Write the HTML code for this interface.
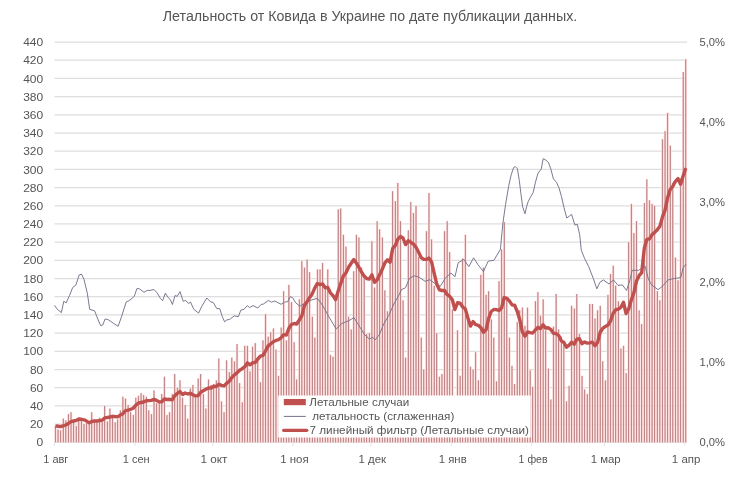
<!DOCTYPE html><html><head><meta charset="utf-8"><title>chart</title><style>html,body{margin:0;padding:0;background:#fff}svg{display:block;will-change:transform;opacity:.999}text{font-family:"Liberation Sans",sans-serif;fill:#555}</style></head><body>
<svg width="740" height="485" viewBox="0 0 740 485">
<rect width="740" height="485" fill="#fff"/>
<line x1="54.5" x2="687" y1="442.3" y2="442.3" stroke="#DEDEDE" stroke-width="1.25"/>
<line x1="54.5" x2="687" y1="424.1" y2="424.1" stroke="#DEDEDE" stroke-width="1.25"/>
<line x1="54.5" x2="687" y1="405.9" y2="405.9" stroke="#DEDEDE" stroke-width="1.25"/>
<line x1="54.5" x2="687" y1="387.7" y2="387.7" stroke="#DEDEDE" stroke-width="1.25"/>
<line x1="54.5" x2="687" y1="369.5" y2="369.5" stroke="#DEDEDE" stroke-width="1.25"/>
<line x1="54.5" x2="687" y1="351.3" y2="351.3" stroke="#DEDEDE" stroke-width="1.25"/>
<line x1="54.5" x2="687" y1="333.1" y2="333.1" stroke="#DEDEDE" stroke-width="1.25"/>
<line x1="54.5" x2="687" y1="314.9" y2="314.9" stroke="#DEDEDE" stroke-width="1.25"/>
<line x1="54.5" x2="687" y1="296.7" y2="296.7" stroke="#DEDEDE" stroke-width="1.25"/>
<line x1="54.5" x2="687" y1="278.5" y2="278.5" stroke="#DEDEDE" stroke-width="1.25"/>
<line x1="54.5" x2="687" y1="260.3" y2="260.3" stroke="#DEDEDE" stroke-width="1.25"/>
<line x1="54.5" x2="687" y1="242.1" y2="242.1" stroke="#DEDEDE" stroke-width="1.25"/>
<line x1="54.5" x2="687" y1="223.9" y2="223.9" stroke="#DEDEDE" stroke-width="1.25"/>
<line x1="54.5" x2="687" y1="205.8" y2="205.8" stroke="#DEDEDE" stroke-width="1.25"/>
<line x1="54.5" x2="687" y1="187.6" y2="187.6" stroke="#DEDEDE" stroke-width="1.25"/>
<line x1="54.5" x2="687" y1="169.4" y2="169.4" stroke="#DEDEDE" stroke-width="1.25"/>
<line x1="54.5" x2="687" y1="151.2" y2="151.2" stroke="#DEDEDE" stroke-width="1.25"/>
<line x1="54.5" x2="687" y1="133.0" y2="133.0" stroke="#DEDEDE" stroke-width="1.25"/>
<line x1="54.5" x2="687" y1="114.8" y2="114.8" stroke="#DEDEDE" stroke-width="1.25"/>
<line x1="54.5" x2="687" y1="96.6" y2="96.6" stroke="#DEDEDE" stroke-width="1.25"/>
<line x1="54.5" x2="687" y1="78.4" y2="78.4" stroke="#DEDEDE" stroke-width="1.25"/>
<line x1="54.5" x2="687" y1="60.2" y2="60.2" stroke="#DEDEDE" stroke-width="1.25"/>
<line x1="54.5" x2="687" y1="42.0" y2="42.0" stroke="#DEDEDE" stroke-width="1.25"/>
<line x1="54.5" x2="54.5" y1="442" y2="446" stroke="#E4E4E4" stroke-width="1"/>
<line x1="134.9" x2="134.9" y1="442" y2="446" stroke="#E4E4E4" stroke-width="1"/>
<line x1="212.7" x2="212.7" y1="442" y2="446" stroke="#E4E4E4" stroke-width="1"/>
<line x1="293.1" x2="293.1" y1="442" y2="446" stroke="#E4E4E4" stroke-width="1"/>
<line x1="371.0" x2="371.0" y1="442" y2="446" stroke="#E4E4E4" stroke-width="1"/>
<line x1="451.4" x2="451.4" y1="442" y2="446" stroke="#E4E4E4" stroke-width="1"/>
<line x1="531.8" x2="531.8" y1="442" y2="446" stroke="#E4E4E4" stroke-width="1"/>
<line x1="604.4" x2="604.4" y1="442" y2="446" stroke="#E4E4E4" stroke-width="1"/>
<line x1="684.8" x2="684.8" y1="442" y2="446" stroke="#E4E4E4" stroke-width="1"/>
<g fill="#FFE4E2" opacity="0.9"><rect x="54.20" y="425.52" width="2.5" height="16.78"/><rect x="56.79" y="429.16" width="2.5" height="13.14"/><rect x="59.39" y="430.07" width="2.5" height="12.23"/><rect x="61.98" y="418.25" width="2.5" height="24.05"/><rect x="64.58" y="420.06" width="2.5" height="22.24"/><rect x="67.17" y="413.70" width="2.5" height="28.60"/><rect x="69.76" y="411.88" width="2.5" height="30.42"/><rect x="72.36" y="420.97" width="2.5" height="21.33"/><rect x="74.95" y="425.52" width="2.5" height="16.78"/><rect x="77.55" y="420.06" width="2.5" height="22.24"/><rect x="80.14" y="420.06" width="2.5" height="22.24"/><rect x="82.73" y="423.70" width="2.5" height="18.60"/><rect x="85.33" y="422.79" width="2.5" height="19.51"/><rect x="87.92" y="423.70" width="2.5" height="18.60"/><rect x="90.52" y="411.88" width="2.5" height="30.42"/><rect x="93.11" y="421.88" width="2.5" height="20.42"/><rect x="95.70" y="420.06" width="2.5" height="22.24"/><rect x="98.30" y="417.34" width="2.5" height="24.96"/><rect x="100.89" y="421.88" width="2.5" height="20.42"/><rect x="103.49" y="405.51" width="2.5" height="36.79"/><rect x="106.08" y="420.97" width="2.5" height="21.33"/><rect x="108.67" y="408.24" width="2.5" height="34.06"/><rect x="111.27" y="417.34" width="2.5" height="24.96"/><rect x="113.86" y="421.88" width="2.5" height="20.42"/><rect x="116.46" y="419.16" width="2.5" height="23.15"/><rect x="119.05" y="410.06" width="2.5" height="32.24"/><rect x="121.64" y="396.41" width="2.5" height="45.89"/><rect x="124.24" y="398.23" width="2.5" height="44.07"/><rect x="126.83" y="404.60" width="2.5" height="37.70"/><rect x="129.43" y="411.88" width="2.5" height="30.42"/><rect x="132.02" y="414.61" width="2.5" height="27.69"/><rect x="134.61" y="397.32" width="2.5" height="44.98"/><rect x="137.21" y="395.50" width="2.5" height="46.80"/><rect x="139.80" y="392.77" width="2.5" height="49.53"/><rect x="142.40" y="394.59" width="2.5" height="47.71"/><rect x="144.99" y="396.41" width="2.5" height="45.89"/><rect x="147.58" y="410.06" width="2.5" height="32.24"/><rect x="150.18" y="413.70" width="2.5" height="28.60"/><rect x="152.77" y="390.04" width="2.5" height="52.26"/><rect x="155.37" y="402.78" width="2.5" height="39.52"/><rect x="157.96" y="402.78" width="2.5" height="39.52"/><rect x="160.55" y="393.68" width="2.5" height="48.62"/><rect x="163.15" y="376.39" width="2.5" height="65.91"/><rect x="165.74" y="414.61" width="2.5" height="27.69"/><rect x="168.34" y="411.88" width="2.5" height="30.42"/><rect x="170.93" y="393.68" width="2.5" height="48.62"/><rect x="173.52" y="373.67" width="2.5" height="68.64"/><rect x="176.12" y="387.31" width="2.5" height="54.99"/><rect x="178.71" y="380.03" width="2.5" height="62.27"/><rect x="181.31" y="397.32" width="2.5" height="44.98"/><rect x="183.90" y="404.60" width="2.5" height="37.70"/><rect x="186.49" y="418.25" width="2.5" height="24.05"/><rect x="189.09" y="388.22" width="2.5" height="54.08"/><rect x="191.68" y="384.58" width="2.5" height="57.72"/><rect x="194.28" y="395.50" width="2.5" height="46.80"/><rect x="196.87" y="378.21" width="2.5" height="64.09"/><rect x="199.46" y="373.67" width="2.5" height="68.64"/><rect x="202.06" y="393.68" width="2.5" height="48.62"/><rect x="204.65" y="408.24" width="2.5" height="34.06"/><rect x="207.25" y="379.12" width="2.5" height="63.18"/><rect x="209.84" y="384.58" width="2.5" height="57.72"/><rect x="212.43" y="383.67" width="2.5" height="58.63"/><rect x="215.03" y="380.03" width="2.5" height="62.27"/><rect x="217.62" y="358.20" width="2.5" height="84.10"/><rect x="220.22" y="400.96" width="2.5" height="41.34"/><rect x="222.81" y="411.88" width="2.5" height="30.42"/><rect x="225.40" y="360.02" width="2.5" height="82.28"/><rect x="228.00" y="371.85" width="2.5" height="70.45"/><rect x="230.59" y="357.29" width="2.5" height="85.01"/><rect x="233.19" y="360.93" width="2.5" height="81.37"/><rect x="235.78" y="343.64" width="2.5" height="98.66"/><rect x="238.37" y="382.76" width="2.5" height="59.54"/><rect x="240.97" y="401.87" width="2.5" height="40.43"/><rect x="243.56" y="345.46" width="2.5" height="96.84"/><rect x="246.16" y="345.46" width="2.5" height="96.84"/><rect x="248.75" y="370.94" width="2.5" height="71.36"/><rect x="251.34" y="346.37" width="2.5" height="95.93"/><rect x="253.94" y="342.73" width="2.5" height="99.57"/><rect x="256.53" y="357.29" width="2.5" height="85.01"/><rect x="259.13" y="381.85" width="2.5" height="60.45"/><rect x="261.72" y="340.00" width="2.5" height="102.30"/><rect x="264.31" y="313.62" width="2.5" height="128.68"/><rect x="266.91" y="336.36" width="2.5" height="105.94"/><rect x="269.50" y="331.81" width="2.5" height="110.49"/><rect x="272.10" y="328.18" width="2.5" height="114.13"/><rect x="274.69" y="349.10" width="2.5" height="93.20"/><rect x="277.28" y="375.48" width="2.5" height="66.82"/><rect x="279.88" y="327.27" width="2.5" height="115.03"/><rect x="282.47" y="290.87" width="2.5" height="151.43"/><rect x="285.07" y="340.00" width="2.5" height="102.30"/><rect x="287.66" y="284.50" width="2.5" height="157.80"/><rect x="290.25" y="301.79" width="2.5" height="140.51"/><rect x="292.85" y="341.82" width="2.5" height="100.48"/><rect x="295.44" y="379.12" width="2.5" height="63.18"/><rect x="298.04" y="299.06" width="2.5" height="143.24"/><rect x="300.63" y="260.85" width="2.5" height="181.45"/><rect x="303.22" y="267.22" width="2.5" height="175.08"/><rect x="305.82" y="259.03" width="2.5" height="183.27"/><rect x="308.41" y="271.77" width="2.5" height="170.53"/><rect x="311.01" y="316.35" width="2.5" height="125.95"/><rect x="313.60" y="337.27" width="2.5" height="105.03"/><rect x="316.19" y="269.04" width="2.5" height="173.26"/><rect x="318.79" y="269.04" width="2.5" height="173.26"/><rect x="321.38" y="262.67" width="2.5" height="179.63"/><rect x="323.98" y="285.41" width="2.5" height="156.89"/><rect x="326.57" y="269.04" width="2.5" height="173.26"/><rect x="329.16" y="354.56" width="2.5" height="87.74"/><rect x="331.76" y="356.38" width="2.5" height="85.92"/><rect x="334.35" y="297.24" width="2.5" height="145.06"/><rect x="336.95" y="208.99" width="2.5" height="233.31"/><rect x="339.54" y="208.08" width="2.5" height="234.22"/><rect x="342.13" y="234.47" width="2.5" height="207.83"/><rect x="344.73" y="246.29" width="2.5" height="196.01"/><rect x="347.32" y="316.35" width="2.5" height="125.95"/><rect x="349.92" y="329.08" width="2.5" height="113.22"/><rect x="352.51" y="270.86" width="2.5" height="171.44"/><rect x="355.10" y="234.47" width="2.5" height="207.83"/><rect x="357.70" y="237.19" width="2.5" height="205.11"/><rect x="360.29" y="267.22" width="2.5" height="175.08"/><rect x="362.89" y="274.50" width="2.5" height="167.80"/><rect x="365.48" y="333.63" width="2.5" height="108.67"/><rect x="368.07" y="332.72" width="2.5" height="109.58"/><rect x="370.67" y="240.83" width="2.5" height="201.47"/><rect x="373.26" y="287.23" width="2.5" height="155.07"/><rect x="375.86" y="220.82" width="2.5" height="221.48"/><rect x="378.45" y="229.01" width="2.5" height="213.29"/><rect x="381.04" y="237.19" width="2.5" height="205.11"/><rect x="383.64" y="289.96" width="2.5" height="152.34"/><rect x="386.23" y="310.89" width="2.5" height="131.41"/><rect x="388.83" y="257.21" width="2.5" height="185.09"/><rect x="391.42" y="190.80" width="2.5" height="251.50"/><rect x="394.01" y="200.80" width="2.5" height="241.50"/><rect x="396.61" y="182.61" width="2.5" height="259.69"/><rect x="399.20" y="220.82" width="2.5" height="221.48"/><rect x="401.80" y="299.97" width="2.5" height="142.33"/><rect x="404.39" y="357.29" width="2.5" height="85.01"/><rect x="406.98" y="229.92" width="2.5" height="212.38"/><rect x="409.58" y="201.71" width="2.5" height="240.59"/><rect x="412.17" y="212.63" width="2.5" height="229.67"/><rect x="414.77" y="205.35" width="2.5" height="236.95"/><rect x="417.36" y="256.30" width="2.5" height="186.00"/><rect x="419.95" y="337.27" width="2.5" height="105.03"/><rect x="422.55" y="369.12" width="2.5" height="73.18"/><rect x="425.14" y="230.83" width="2.5" height="211.47"/><rect x="427.74" y="192.61" width="2.5" height="249.69"/><rect x="430.33" y="239.01" width="2.5" height="203.29"/><rect x="432.92" y="285.41" width="2.5" height="156.89"/><rect x="435.52" y="332.72" width="2.5" height="109.58"/><rect x="438.11" y="376.39" width="2.5" height="65.91"/><rect x="440.71" y="373.67" width="2.5" height="68.64"/><rect x="443.30" y="230.83" width="2.5" height="211.47"/><rect x="445.89" y="220.82" width="2.5" height="221.48"/><rect x="448.49" y="251.75" width="2.5" height="190.55"/><rect x="451.08" y="309.07" width="2.5" height="133.23"/><rect x="453.68" y="400.96" width="2.5" height="41.34"/><rect x="456.27" y="329.99" width="2.5" height="112.31"/><rect x="458.86" y="375.48" width="2.5" height="66.82"/><rect x="461.46" y="258.12" width="2.5" height="184.18"/><rect x="464.05" y="234.47" width="2.5" height="207.83"/><rect x="466.65" y="314.53" width="2.5" height="127.77"/><rect x="469.24" y="366.39" width="2.5" height="75.91"/><rect x="471.83" y="369.12" width="2.5" height="73.18"/><rect x="474.43" y="351.83" width="2.5" height="90.47"/><rect x="477.02" y="380.03" width="2.5" height="62.27"/><rect x="479.62" y="274.50" width="2.5" height="167.80"/><rect x="482.21" y="267.22" width="2.5" height="175.08"/><rect x="484.80" y="294.51" width="2.5" height="147.79"/><rect x="487.40" y="290.87" width="2.5" height="151.43"/><rect x="489.99" y="319.08" width="2.5" height="123.22"/><rect x="492.59" y="337.27" width="2.5" height="105.03"/><rect x="495.18" y="380.94" width="2.5" height="61.36"/><rect x="497.77" y="280.87" width="2.5" height="161.43"/><rect x="500.37" y="249.02" width="2.5" height="193.28"/><rect x="502.96" y="221.73" width="2.5" height="220.57"/><rect x="505.56" y="296.33" width="2.5" height="145.97"/><rect x="508.15" y="337.27" width="2.5" height="105.03"/><rect x="510.74" y="365.48" width="2.5" height="76.82"/><rect x="513.34" y="383.67" width="2.5" height="58.63"/><rect x="515.93" y="321.81" width="2.5" height="120.49"/><rect x="518.53" y="309.98" width="2.5" height="132.32"/><rect x="521.12" y="307.25" width="2.5" height="135.05"/><rect x="523.71" y="325.45" width="2.5" height="116.85"/><rect x="526.31" y="307.25" width="2.5" height="135.05"/><rect x="528.90" y="370.03" width="2.5" height="72.27"/><rect x="531.50" y="386.40" width="2.5" height="55.90"/><rect x="534.09" y="300.88" width="2.5" height="141.42"/><rect x="536.68" y="291.78" width="2.5" height="150.52"/><rect x="539.28" y="315.44" width="2.5" height="126.86"/><rect x="541.87" y="299.06" width="2.5" height="143.24"/><rect x="544.47" y="329.99" width="2.5" height="112.31"/><rect x="547.06" y="368.21" width="2.5" height="74.09"/><rect x="549.65" y="399.14" width="2.5" height="43.16"/><rect x="552.25" y="326.36" width="2.5" height="115.94"/><rect x="554.84" y="293.60" width="2.5" height="148.70"/><rect x="557.44" y="329.08" width="2.5" height="113.22"/><rect x="560.03" y="336.36" width="2.5" height="105.94"/><rect x="562.62" y="341.82" width="2.5" height="100.48"/><rect x="565.22" y="400.96" width="2.5" height="41.34"/><rect x="567.81" y="385.49" width="2.5" height="56.81"/><rect x="570.41" y="305.43" width="2.5" height="136.87"/><rect x="573.00" y="308.16" width="2.5" height="134.14"/><rect x="575.59" y="293.60" width="2.5" height="148.70"/><rect x="578.19" y="333.63" width="2.5" height="108.67"/><rect x="580.78" y="375.48" width="2.5" height="66.82"/><rect x="583.38" y="389.13" width="2.5" height="53.17"/><rect x="585.97" y="393.68" width="2.5" height="48.62"/><rect x="588.56" y="303.61" width="2.5" height="138.69"/><rect x="591.16" y="303.61" width="2.5" height="138.69"/><rect x="593.75" y="318.17" width="2.5" height="124.13"/><rect x="596.35" y="309.98" width="2.5" height="132.32"/><rect x="598.94" y="305.43" width="2.5" height="136.87"/><rect x="601.53" y="360.93" width="2.5" height="81.37"/><rect x="604.13" y="380.03" width="2.5" height="62.27"/><rect x="606.72" y="294.51" width="2.5" height="147.79"/><rect x="609.32" y="273.59" width="2.5" height="168.71"/><rect x="611.91" y="265.40" width="2.5" height="176.90"/><rect x="614.50" y="285.41" width="2.5" height="156.89"/><rect x="617.10" y="300.88" width="2.5" height="141.42"/><rect x="619.69" y="348.19" width="2.5" height="94.11"/><rect x="622.29" y="345.46" width="2.5" height="96.84"/><rect x="624.88" y="372.76" width="2.5" height="69.54"/><rect x="627.47" y="241.74" width="2.5" height="200.56"/><rect x="630.07" y="203.53" width="2.5" height="238.77"/><rect x="632.66" y="232.65" width="2.5" height="209.65"/><rect x="635.26" y="220.82" width="2.5" height="221.48"/><rect x="637.85" y="309.98" width="2.5" height="132.32"/><rect x="640.44" y="323.63" width="2.5" height="118.67"/><rect x="643.04" y="202.62" width="2.5" height="239.68"/><rect x="645.63" y="178.97" width="2.5" height="263.33"/><rect x="648.23" y="199.89" width="2.5" height="242.41"/><rect x="650.82" y="203.53" width="2.5" height="238.77"/><rect x="653.41" y="205.35" width="2.5" height="236.95"/><rect x="656.01" y="290.87" width="2.5" height="151.43"/><rect x="658.60" y="299.97" width="2.5" height="142.33"/><rect x="661.20" y="138.94" width="2.5" height="303.36"/><rect x="663.79" y="130.75" width="2.5" height="311.55"/><rect x="666.38" y="112.55" width="2.5" height="329.75"/><rect x="668.98" y="145.31" width="2.5" height="296.99"/><rect x="671.57" y="182.61" width="2.5" height="259.69"/><rect x="674.17" y="257.21" width="2.5" height="185.09"/><rect x="676.76" y="279.96" width="2.5" height="162.34"/><rect x="679.35" y="178.06" width="2.5" height="264.24"/><rect x="681.95" y="71.61" width="2.5" height="370.69"/><rect x="684.54" y="58.87" width="2.5" height="383.43"/></g>
<g fill="#F5BDBF"><rect x="54.70" y="425.92" width="1.5" height="16.38"/><rect x="57.29" y="429.56" width="1.5" height="12.74"/><rect x="59.89" y="430.47" width="1.5" height="11.83"/><rect x="62.48" y="418.65" width="1.5" height="23.65"/><rect x="65.08" y="420.46" width="1.5" height="21.84"/><rect x="67.67" y="414.10" width="1.5" height="28.20"/><rect x="70.26" y="412.28" width="1.5" height="30.02"/><rect x="72.86" y="421.37" width="1.5" height="20.93"/><rect x="75.45" y="425.92" width="1.5" height="16.38"/><rect x="78.05" y="420.46" width="1.5" height="21.84"/><rect x="80.64" y="420.46" width="1.5" height="21.84"/><rect x="83.23" y="424.10" width="1.5" height="18.20"/><rect x="85.83" y="423.19" width="1.5" height="19.11"/><rect x="88.42" y="424.10" width="1.5" height="18.20"/><rect x="91.02" y="412.28" width="1.5" height="30.02"/><rect x="93.61" y="422.28" width="1.5" height="20.02"/><rect x="96.20" y="420.46" width="1.5" height="21.84"/><rect x="98.80" y="417.74" width="1.5" height="24.56"/><rect x="101.39" y="422.28" width="1.5" height="20.02"/><rect x="103.99" y="405.91" width="1.5" height="36.39"/><rect x="106.58" y="421.37" width="1.5" height="20.93"/><rect x="109.17" y="408.64" width="1.5" height="33.66"/><rect x="111.77" y="417.74" width="1.5" height="24.56"/><rect x="114.36" y="422.28" width="1.5" height="20.02"/><rect x="116.96" y="419.56" width="1.5" height="22.75"/><rect x="119.55" y="410.46" width="1.5" height="31.84"/><rect x="122.14" y="396.81" width="1.5" height="45.49"/><rect x="124.74" y="398.63" width="1.5" height="43.67"/><rect x="127.33" y="405.00" width="1.5" height="37.30"/><rect x="129.93" y="412.28" width="1.5" height="30.02"/><rect x="132.52" y="415.01" width="1.5" height="27.29"/><rect x="135.11" y="397.72" width="1.5" height="44.58"/><rect x="137.71" y="395.90" width="1.5" height="46.40"/><rect x="140.30" y="393.17" width="1.5" height="49.13"/><rect x="142.90" y="394.99" width="1.5" height="47.31"/><rect x="145.49" y="396.81" width="1.5" height="45.49"/><rect x="148.08" y="410.46" width="1.5" height="31.84"/><rect x="150.68" y="414.10" width="1.5" height="28.20"/><rect x="153.27" y="390.44" width="1.5" height="51.86"/><rect x="155.87" y="403.18" width="1.5" height="39.12"/><rect x="158.46" y="403.18" width="1.5" height="39.12"/><rect x="161.05" y="394.08" width="1.5" height="48.22"/><rect x="163.65" y="376.79" width="1.5" height="65.51"/><rect x="166.24" y="415.01" width="1.5" height="27.29"/><rect x="168.84" y="412.28" width="1.5" height="30.02"/><rect x="171.43" y="394.08" width="1.5" height="48.22"/><rect x="174.02" y="374.06" width="1.5" height="68.24"/><rect x="176.62" y="387.71" width="1.5" height="54.59"/><rect x="179.21" y="380.43" width="1.5" height="61.87"/><rect x="181.81" y="397.72" width="1.5" height="44.58"/><rect x="184.40" y="405.00" width="1.5" height="37.30"/><rect x="186.99" y="418.65" width="1.5" height="23.65"/><rect x="189.59" y="388.62" width="1.5" height="53.68"/><rect x="192.18" y="384.98" width="1.5" height="57.32"/><rect x="194.78" y="395.90" width="1.5" height="46.40"/><rect x="197.37" y="378.61" width="1.5" height="63.69"/><rect x="199.96" y="374.06" width="1.5" height="68.24"/><rect x="202.56" y="394.08" width="1.5" height="48.22"/><rect x="205.15" y="408.64" width="1.5" height="33.66"/><rect x="207.75" y="379.52" width="1.5" height="62.78"/><rect x="210.34" y="384.98" width="1.5" height="57.32"/><rect x="212.93" y="384.07" width="1.5" height="58.23"/><rect x="215.53" y="380.43" width="1.5" height="61.87"/><rect x="218.12" y="358.60" width="1.5" height="83.70"/><rect x="220.72" y="401.36" width="1.5" height="40.94"/><rect x="223.31" y="412.28" width="1.5" height="30.02"/><rect x="225.90" y="360.42" width="1.5" height="81.88"/><rect x="228.50" y="372.25" width="1.5" height="70.05"/><rect x="231.09" y="357.69" width="1.5" height="84.61"/><rect x="233.69" y="361.33" width="1.5" height="80.97"/><rect x="236.28" y="344.04" width="1.5" height="98.26"/><rect x="238.87" y="383.16" width="1.5" height="59.14"/><rect x="241.47" y="402.27" width="1.5" height="40.03"/><rect x="244.06" y="345.86" width="1.5" height="96.44"/><rect x="246.66" y="345.86" width="1.5" height="96.44"/><rect x="249.25" y="371.34" width="1.5" height="70.96"/><rect x="251.84" y="346.77" width="1.5" height="95.53"/><rect x="254.44" y="343.13" width="1.5" height="99.17"/><rect x="257.03" y="357.69" width="1.5" height="84.61"/><rect x="259.63" y="382.25" width="1.5" height="60.05"/><rect x="262.22" y="340.40" width="1.5" height="101.90"/><rect x="264.81" y="314.02" width="1.5" height="128.28"/><rect x="267.41" y="336.76" width="1.5" height="105.54"/><rect x="270.00" y="332.21" width="1.5" height="110.09"/><rect x="272.60" y="328.57" width="1.5" height="113.73"/><rect x="275.19" y="349.50" width="1.5" height="92.80"/><rect x="277.78" y="375.88" width="1.5" height="66.42"/><rect x="280.38" y="327.67" width="1.5" height="114.63"/><rect x="282.97" y="291.27" width="1.5" height="151.03"/><rect x="285.57" y="340.40" width="1.5" height="101.90"/><rect x="288.16" y="284.90" width="1.5" height="157.40"/><rect x="290.75" y="302.19" width="1.5" height="140.11"/><rect x="293.35" y="342.22" width="1.5" height="100.08"/><rect x="295.94" y="379.52" width="1.5" height="62.78"/><rect x="298.54" y="299.46" width="1.5" height="142.84"/><rect x="301.13" y="261.25" width="1.5" height="181.05"/><rect x="303.72" y="267.62" width="1.5" height="174.68"/><rect x="306.32" y="259.43" width="1.5" height="182.87"/><rect x="308.91" y="272.17" width="1.5" height="170.13"/><rect x="311.51" y="316.75" width="1.5" height="125.55"/><rect x="314.10" y="337.67" width="1.5" height="104.63"/><rect x="316.69" y="269.44" width="1.5" height="172.86"/><rect x="319.29" y="269.44" width="1.5" height="172.86"/><rect x="321.88" y="263.07" width="1.5" height="179.23"/><rect x="324.48" y="285.81" width="1.5" height="156.49"/><rect x="327.07" y="269.44" width="1.5" height="172.86"/><rect x="329.66" y="354.96" width="1.5" height="87.34"/><rect x="332.26" y="356.78" width="1.5" height="85.52"/><rect x="334.85" y="297.64" width="1.5" height="144.66"/><rect x="337.45" y="209.39" width="1.5" height="232.91"/><rect x="340.04" y="208.48" width="1.5" height="233.82"/><rect x="342.63" y="234.87" width="1.5" height="207.43"/><rect x="345.23" y="246.69" width="1.5" height="195.61"/><rect x="347.82" y="316.75" width="1.5" height="125.55"/><rect x="350.42" y="329.48" width="1.5" height="112.82"/><rect x="353.01" y="271.26" width="1.5" height="171.04"/><rect x="355.60" y="234.87" width="1.5" height="207.43"/><rect x="358.20" y="237.59" width="1.5" height="204.71"/><rect x="360.79" y="267.62" width="1.5" height="174.68"/><rect x="363.39" y="274.90" width="1.5" height="167.40"/><rect x="365.98" y="334.03" width="1.5" height="108.27"/><rect x="368.57" y="333.12" width="1.5" height="109.18"/><rect x="371.17" y="241.23" width="1.5" height="201.07"/><rect x="373.76" y="287.63" width="1.5" height="154.67"/><rect x="376.36" y="221.22" width="1.5" height="221.08"/><rect x="378.95" y="229.41" width="1.5" height="212.89"/><rect x="381.54" y="237.59" width="1.5" height="204.71"/><rect x="384.14" y="290.36" width="1.5" height="151.94"/><rect x="386.73" y="311.29" width="1.5" height="131.01"/><rect x="389.33" y="257.61" width="1.5" height="184.69"/><rect x="391.92" y="191.20" width="1.5" height="251.10"/><rect x="394.51" y="201.20" width="1.5" height="241.10"/><rect x="397.11" y="183.01" width="1.5" height="259.29"/><rect x="399.70" y="221.22" width="1.5" height="221.08"/><rect x="402.30" y="300.37" width="1.5" height="141.93"/><rect x="404.89" y="357.69" width="1.5" height="84.61"/><rect x="407.48" y="230.32" width="1.5" height="211.98"/><rect x="410.08" y="202.11" width="1.5" height="240.19"/><rect x="412.67" y="213.03" width="1.5" height="229.27"/><rect x="415.27" y="205.75" width="1.5" height="236.55"/><rect x="417.86" y="256.70" width="1.5" height="185.60"/><rect x="420.45" y="337.67" width="1.5" height="104.63"/><rect x="423.05" y="369.52" width="1.5" height="72.78"/><rect x="425.64" y="231.23" width="1.5" height="211.07"/><rect x="428.24" y="193.01" width="1.5" height="249.29"/><rect x="430.83" y="239.41" width="1.5" height="202.89"/><rect x="433.42" y="285.81" width="1.5" height="156.49"/><rect x="436.02" y="333.12" width="1.5" height="109.18"/><rect x="438.61" y="376.79" width="1.5" height="65.51"/><rect x="441.21" y="374.06" width="1.5" height="68.24"/><rect x="443.80" y="231.23" width="1.5" height="211.07"/><rect x="446.39" y="221.22" width="1.5" height="221.08"/><rect x="448.99" y="252.15" width="1.5" height="190.15"/><rect x="451.58" y="309.47" width="1.5" height="132.83"/><rect x="454.18" y="401.36" width="1.5" height="40.94"/><rect x="456.77" y="330.39" width="1.5" height="111.91"/><rect x="459.36" y="375.88" width="1.5" height="66.42"/><rect x="461.96" y="258.52" width="1.5" height="183.78"/><rect x="464.55" y="234.87" width="1.5" height="207.43"/><rect x="467.15" y="314.93" width="1.5" height="127.37"/><rect x="469.74" y="366.79" width="1.5" height="75.51"/><rect x="472.33" y="369.52" width="1.5" height="72.78"/><rect x="474.93" y="352.23" width="1.5" height="90.07"/><rect x="477.52" y="380.43" width="1.5" height="61.87"/><rect x="480.12" y="274.90" width="1.5" height="167.40"/><rect x="482.71" y="267.62" width="1.5" height="174.68"/><rect x="485.30" y="294.91" width="1.5" height="147.39"/><rect x="487.90" y="291.27" width="1.5" height="151.03"/><rect x="490.49" y="319.48" width="1.5" height="122.82"/><rect x="493.09" y="337.67" width="1.5" height="104.63"/><rect x="495.68" y="381.34" width="1.5" height="60.96"/><rect x="498.27" y="281.27" width="1.5" height="161.03"/><rect x="500.87" y="249.42" width="1.5" height="192.88"/><rect x="503.46" y="222.13" width="1.5" height="220.17"/><rect x="506.06" y="296.73" width="1.5" height="145.57"/><rect x="508.65" y="337.67" width="1.5" height="104.63"/><rect x="511.24" y="365.88" width="1.5" height="76.42"/><rect x="513.84" y="384.07" width="1.5" height="58.23"/><rect x="516.43" y="322.21" width="1.5" height="120.09"/><rect x="519.03" y="310.38" width="1.5" height="131.92"/><rect x="521.62" y="307.65" width="1.5" height="134.65"/><rect x="524.21" y="325.85" width="1.5" height="116.45"/><rect x="526.81" y="307.65" width="1.5" height="134.65"/><rect x="529.40" y="370.43" width="1.5" height="71.87"/><rect x="532.00" y="386.80" width="1.5" height="55.50"/><rect x="534.59" y="301.28" width="1.5" height="141.02"/><rect x="537.18" y="292.18" width="1.5" height="150.12"/><rect x="539.78" y="315.84" width="1.5" height="126.46"/><rect x="542.37" y="299.46" width="1.5" height="142.84"/><rect x="544.97" y="330.39" width="1.5" height="111.91"/><rect x="547.56" y="368.61" width="1.5" height="73.69"/><rect x="550.15" y="399.54" width="1.5" height="42.76"/><rect x="552.75" y="326.76" width="1.5" height="115.54"/><rect x="555.34" y="294.00" width="1.5" height="148.30"/><rect x="557.94" y="329.48" width="1.5" height="112.82"/><rect x="560.53" y="336.76" width="1.5" height="105.54"/><rect x="563.12" y="342.22" width="1.5" height="100.08"/><rect x="565.72" y="401.36" width="1.5" height="40.94"/><rect x="568.31" y="385.89" width="1.5" height="56.41"/><rect x="570.91" y="305.83" width="1.5" height="136.47"/><rect x="573.50" y="308.56" width="1.5" height="133.74"/><rect x="576.09" y="294.00" width="1.5" height="148.30"/><rect x="578.69" y="334.03" width="1.5" height="108.27"/><rect x="581.28" y="375.88" width="1.5" height="66.42"/><rect x="583.88" y="389.53" width="1.5" height="52.77"/><rect x="586.47" y="394.08" width="1.5" height="48.22"/><rect x="589.06" y="304.01" width="1.5" height="138.29"/><rect x="591.66" y="304.01" width="1.5" height="138.29"/><rect x="594.25" y="318.57" width="1.5" height="123.73"/><rect x="596.85" y="310.38" width="1.5" height="131.92"/><rect x="599.44" y="305.83" width="1.5" height="136.47"/><rect x="602.03" y="361.33" width="1.5" height="80.97"/><rect x="604.63" y="380.43" width="1.5" height="61.87"/><rect x="607.22" y="294.91" width="1.5" height="147.39"/><rect x="609.82" y="273.99" width="1.5" height="168.31"/><rect x="612.41" y="265.80" width="1.5" height="176.50"/><rect x="615.00" y="285.81" width="1.5" height="156.49"/><rect x="617.60" y="301.28" width="1.5" height="141.02"/><rect x="620.19" y="348.59" width="1.5" height="93.71"/><rect x="622.79" y="345.86" width="1.5" height="96.44"/><rect x="625.38" y="373.16" width="1.5" height="69.14"/><rect x="627.97" y="242.14" width="1.5" height="200.16"/><rect x="630.57" y="203.93" width="1.5" height="238.37"/><rect x="633.16" y="233.05" width="1.5" height="209.25"/><rect x="635.76" y="221.22" width="1.5" height="221.08"/><rect x="638.35" y="310.38" width="1.5" height="131.92"/><rect x="640.94" y="324.03" width="1.5" height="118.27"/><rect x="643.54" y="203.02" width="1.5" height="239.28"/><rect x="646.13" y="179.37" width="1.5" height="262.93"/><rect x="648.73" y="200.29" width="1.5" height="242.01"/><rect x="651.32" y="203.93" width="1.5" height="238.37"/><rect x="653.91" y="205.75" width="1.5" height="236.55"/><rect x="656.51" y="291.27" width="1.5" height="151.03"/><rect x="659.10" y="300.37" width="1.5" height="141.93"/><rect x="661.70" y="139.34" width="1.5" height="302.96"/><rect x="664.29" y="131.15" width="1.5" height="311.15"/><rect x="666.88" y="112.95" width="1.5" height="329.35"/><rect x="669.48" y="145.71" width="1.5" height="296.59"/><rect x="672.07" y="183.01" width="1.5" height="259.29"/><rect x="674.67" y="257.61" width="1.5" height="184.69"/><rect x="677.26" y="280.36" width="1.5" height="161.94"/><rect x="679.85" y="178.46" width="1.5" height="263.84"/><rect x="682.45" y="72.01" width="1.5" height="370.29"/><rect x="685.04" y="59.27" width="1.5" height="383.03"/></g>
<g fill="#945C5E"><rect x="55.17" y="425.92" width="0.55" height="16.38"/><rect x="57.77" y="429.56" width="0.55" height="12.74"/><rect x="60.36" y="430.47" width="0.55" height="11.83"/><rect x="62.96" y="418.65" width="0.55" height="23.65"/><rect x="65.55" y="420.46" width="0.55" height="21.84"/><rect x="68.14" y="414.10" width="0.55" height="28.20"/><rect x="70.74" y="412.28" width="0.55" height="30.02"/><rect x="73.33" y="421.37" width="0.55" height="20.93"/><rect x="75.93" y="425.92" width="0.55" height="16.38"/><rect x="78.52" y="420.46" width="0.55" height="21.84"/><rect x="81.11" y="420.46" width="0.55" height="21.84"/><rect x="83.71" y="424.10" width="0.55" height="18.20"/><rect x="86.30" y="423.19" width="0.55" height="19.11"/><rect x="88.90" y="424.10" width="0.55" height="18.20"/><rect x="91.49" y="412.28" width="0.55" height="30.02"/><rect x="94.08" y="422.28" width="0.55" height="20.02"/><rect x="96.68" y="420.46" width="0.55" height="21.84"/><rect x="99.27" y="417.74" width="0.55" height="24.56"/><rect x="101.87" y="422.28" width="0.55" height="20.02"/><rect x="104.46" y="405.91" width="0.55" height="36.39"/><rect x="107.05" y="421.37" width="0.55" height="20.93"/><rect x="109.65" y="408.64" width="0.55" height="33.66"/><rect x="112.24" y="417.74" width="0.55" height="24.56"/><rect x="114.84" y="422.28" width="0.55" height="20.02"/><rect x="117.43" y="419.56" width="0.55" height="22.75"/><rect x="120.02" y="410.46" width="0.55" height="31.84"/><rect x="122.62" y="396.81" width="0.55" height="45.49"/><rect x="125.21" y="398.63" width="0.55" height="43.67"/><rect x="127.81" y="405.00" width="0.55" height="37.30"/><rect x="130.40" y="412.28" width="0.55" height="30.02"/><rect x="133.00" y="415.01" width="0.55" height="27.29"/><rect x="135.59" y="397.72" width="0.55" height="44.58"/><rect x="138.18" y="395.90" width="0.55" height="46.40"/><rect x="140.78" y="393.17" width="0.55" height="49.13"/><rect x="143.37" y="394.99" width="0.55" height="47.31"/><rect x="145.97" y="396.81" width="0.55" height="45.49"/><rect x="148.56" y="410.46" width="0.55" height="31.84"/><rect x="151.15" y="414.10" width="0.55" height="28.20"/><rect x="153.75" y="390.44" width="0.55" height="51.86"/><rect x="156.34" y="403.18" width="0.55" height="39.12"/><rect x="158.94" y="403.18" width="0.55" height="39.12"/><rect x="161.53" y="394.08" width="0.55" height="48.22"/><rect x="164.12" y="376.79" width="0.55" height="65.51"/><rect x="166.72" y="415.01" width="0.55" height="27.29"/><rect x="169.31" y="412.28" width="0.55" height="30.02"/><rect x="171.91" y="394.08" width="0.55" height="48.22"/><rect x="174.50" y="374.06" width="0.55" height="68.24"/><rect x="177.09" y="387.71" width="0.55" height="54.59"/><rect x="179.69" y="380.43" width="0.55" height="61.87"/><rect x="182.28" y="397.72" width="0.55" height="44.58"/><rect x="184.88" y="405.00" width="0.55" height="37.30"/><rect x="187.47" y="418.65" width="0.55" height="23.65"/><rect x="190.06" y="388.62" width="0.55" height="53.68"/><rect x="192.66" y="384.98" width="0.55" height="57.32"/><rect x="195.25" y="395.90" width="0.55" height="46.40"/><rect x="197.84" y="378.61" width="0.55" height="63.69"/><rect x="200.44" y="374.06" width="0.55" height="68.24"/><rect x="203.03" y="394.08" width="0.55" height="48.22"/><rect x="205.63" y="408.64" width="0.55" height="33.66"/><rect x="208.22" y="379.52" width="0.55" height="62.78"/><rect x="210.81" y="384.98" width="0.55" height="57.32"/><rect x="213.41" y="384.07" width="0.55" height="58.23"/><rect x="216.00" y="380.43" width="0.55" height="61.87"/><rect x="218.60" y="358.60" width="0.55" height="83.70"/><rect x="221.19" y="401.36" width="0.55" height="40.94"/><rect x="223.78" y="412.28" width="0.55" height="30.02"/><rect x="226.38" y="360.42" width="0.55" height="81.88"/><rect x="228.97" y="372.25" width="0.55" height="70.05"/><rect x="231.57" y="357.69" width="0.55" height="84.61"/><rect x="234.16" y="361.33" width="0.55" height="80.97"/><rect x="236.75" y="344.04" width="0.55" height="98.26"/><rect x="239.35" y="383.16" width="0.55" height="59.14"/><rect x="241.94" y="402.27" width="0.55" height="40.03"/><rect x="244.54" y="345.86" width="0.55" height="96.44"/><rect x="247.13" y="345.86" width="0.55" height="96.44"/><rect x="249.72" y="371.34" width="0.55" height="70.96"/><rect x="252.32" y="346.77" width="0.55" height="95.53"/><rect x="254.91" y="343.13" width="0.55" height="99.17"/><rect x="257.51" y="357.69" width="0.55" height="84.61"/><rect x="260.10" y="382.25" width="0.55" height="60.05"/><rect x="262.69" y="340.40" width="0.55" height="101.90"/><rect x="265.29" y="314.02" width="0.55" height="128.28"/><rect x="267.88" y="336.76" width="0.55" height="105.54"/><rect x="270.48" y="332.21" width="0.55" height="110.09"/><rect x="273.07" y="328.57" width="0.55" height="113.73"/><rect x="275.67" y="349.50" width="0.55" height="92.80"/><rect x="278.26" y="375.88" width="0.55" height="66.42"/><rect x="280.85" y="327.67" width="0.55" height="114.63"/><rect x="283.45" y="291.27" width="0.55" height="151.03"/><rect x="286.04" y="340.40" width="0.55" height="101.90"/><rect x="288.63" y="284.90" width="0.55" height="157.40"/><rect x="291.23" y="302.19" width="0.55" height="140.11"/><rect x="293.82" y="342.22" width="0.55" height="100.08"/><rect x="296.42" y="379.52" width="0.55" height="62.78"/><rect x="299.01" y="299.46" width="0.55" height="142.84"/><rect x="301.60" y="261.25" width="0.55" height="181.05"/><rect x="304.20" y="267.62" width="0.55" height="174.68"/><rect x="306.79" y="259.43" width="0.55" height="182.87"/><rect x="309.39" y="272.17" width="0.55" height="170.13"/><rect x="311.98" y="316.75" width="0.55" height="125.55"/><rect x="314.57" y="337.67" width="0.55" height="104.63"/><rect x="317.17" y="269.44" width="0.55" height="172.86"/><rect x="319.76" y="269.44" width="0.55" height="172.86"/><rect x="322.36" y="263.07" width="0.55" height="179.23"/><rect x="324.95" y="285.81" width="0.55" height="156.49"/><rect x="327.55" y="269.44" width="0.55" height="172.86"/><rect x="330.14" y="354.96" width="0.55" height="87.34"/><rect x="332.73" y="356.78" width="0.55" height="85.52"/><rect x="335.33" y="297.64" width="0.55" height="144.66"/><rect x="337.92" y="209.39" width="0.55" height="232.91"/><rect x="340.51" y="208.48" width="0.55" height="233.82"/><rect x="343.11" y="234.87" width="0.55" height="207.43"/><rect x="345.70" y="246.69" width="0.55" height="195.61"/><rect x="348.30" y="316.75" width="0.55" height="125.55"/><rect x="350.89" y="329.48" width="0.55" height="112.82"/><rect x="353.49" y="271.26" width="0.55" height="171.04"/><rect x="356.08" y="234.87" width="0.55" height="207.43"/><rect x="358.67" y="237.59" width="0.55" height="204.71"/><rect x="361.27" y="267.62" width="0.55" height="174.68"/><rect x="363.86" y="274.90" width="0.55" height="167.40"/><rect x="366.45" y="334.03" width="0.55" height="108.27"/><rect x="369.05" y="333.12" width="0.55" height="109.18"/><rect x="371.64" y="241.23" width="0.55" height="201.07"/><rect x="374.24" y="287.63" width="0.55" height="154.67"/><rect x="376.83" y="221.22" width="0.55" height="221.08"/><rect x="379.43" y="229.41" width="0.55" height="212.89"/><rect x="382.02" y="237.59" width="0.55" height="204.71"/><rect x="384.61" y="290.36" width="0.55" height="151.94"/><rect x="387.21" y="311.29" width="0.55" height="131.01"/><rect x="389.80" y="257.61" width="0.55" height="184.69"/><rect x="392.39" y="191.20" width="0.55" height="251.10"/><rect x="394.99" y="201.20" width="0.55" height="241.10"/><rect x="397.58" y="183.01" width="0.55" height="259.29"/><rect x="400.18" y="221.22" width="0.55" height="221.08"/><rect x="402.77" y="300.37" width="0.55" height="141.93"/><rect x="405.37" y="357.69" width="0.55" height="84.61"/><rect x="407.96" y="230.32" width="0.55" height="211.98"/><rect x="410.55" y="202.11" width="0.55" height="240.19"/><rect x="413.15" y="213.03" width="0.55" height="229.27"/><rect x="415.74" y="205.75" width="0.55" height="236.55"/><rect x="418.33" y="256.70" width="0.55" height="185.60"/><rect x="420.93" y="337.67" width="0.55" height="104.63"/><rect x="423.52" y="369.52" width="0.55" height="72.78"/><rect x="426.12" y="231.23" width="0.55" height="211.07"/><rect x="428.71" y="193.01" width="0.55" height="249.29"/><rect x="431.31" y="239.41" width="0.55" height="202.89"/><rect x="433.90" y="285.81" width="0.55" height="156.49"/><rect x="436.49" y="333.12" width="0.55" height="109.18"/><rect x="439.09" y="376.79" width="0.55" height="65.51"/><rect x="441.68" y="374.06" width="0.55" height="68.24"/><rect x="444.27" y="231.23" width="0.55" height="211.07"/><rect x="446.87" y="221.22" width="0.55" height="221.08"/><rect x="449.46" y="252.15" width="0.55" height="190.15"/><rect x="452.06" y="309.47" width="0.55" height="132.83"/><rect x="454.65" y="401.36" width="0.55" height="40.94"/><rect x="457.25" y="330.39" width="0.55" height="111.91"/><rect x="459.84" y="375.88" width="0.55" height="66.42"/><rect x="462.43" y="258.52" width="0.55" height="183.78"/><rect x="465.03" y="234.87" width="0.55" height="207.43"/><rect x="467.62" y="314.93" width="0.55" height="127.37"/><rect x="470.21" y="366.79" width="0.55" height="75.51"/><rect x="472.81" y="369.52" width="0.55" height="72.78"/><rect x="475.40" y="352.23" width="0.55" height="90.07"/><rect x="478.00" y="380.43" width="0.55" height="61.87"/><rect x="480.59" y="274.90" width="0.55" height="167.40"/><rect x="483.19" y="267.62" width="0.55" height="174.68"/><rect x="485.78" y="294.91" width="0.55" height="147.39"/><rect x="488.37" y="291.27" width="0.55" height="151.03"/><rect x="490.97" y="319.48" width="0.55" height="122.82"/><rect x="493.56" y="337.67" width="0.55" height="104.63"/><rect x="496.15" y="381.34" width="0.55" height="60.96"/><rect x="498.75" y="281.27" width="0.55" height="161.03"/><rect x="501.34" y="249.42" width="0.55" height="192.88"/><rect x="503.94" y="222.13" width="0.55" height="220.17"/><rect x="506.53" y="296.73" width="0.55" height="145.57"/><rect x="509.12" y="337.67" width="0.55" height="104.63"/><rect x="511.72" y="365.88" width="0.55" height="76.42"/><rect x="514.31" y="384.07" width="0.55" height="58.23"/><rect x="516.91" y="322.21" width="0.55" height="120.09"/><rect x="519.50" y="310.38" width="0.55" height="131.92"/><rect x="522.09" y="307.65" width="0.55" height="134.65"/><rect x="524.69" y="325.85" width="0.55" height="116.45"/><rect x="527.28" y="307.65" width="0.55" height="134.65"/><rect x="529.88" y="370.43" width="0.55" height="71.87"/><rect x="532.47" y="386.80" width="0.55" height="55.50"/><rect x="535.06" y="301.28" width="0.55" height="141.02"/><rect x="537.66" y="292.18" width="0.55" height="150.12"/><rect x="540.25" y="315.84" width="0.55" height="126.46"/><rect x="542.85" y="299.46" width="0.55" height="142.84"/><rect x="545.44" y="330.39" width="0.55" height="111.91"/><rect x="548.03" y="368.61" width="0.55" height="73.69"/><rect x="550.63" y="399.54" width="0.55" height="42.76"/><rect x="553.22" y="326.76" width="0.55" height="115.54"/><rect x="555.82" y="294.00" width="0.55" height="148.30"/><rect x="558.41" y="329.48" width="0.55" height="112.82"/><rect x="561.00" y="336.76" width="0.55" height="105.54"/><rect x="563.60" y="342.22" width="0.55" height="100.08"/><rect x="566.19" y="401.36" width="0.55" height="40.94"/><rect x="568.79" y="385.89" width="0.55" height="56.41"/><rect x="571.38" y="305.83" width="0.55" height="136.47"/><rect x="573.97" y="308.56" width="0.55" height="133.74"/><rect x="576.57" y="294.00" width="0.55" height="148.30"/><rect x="579.16" y="334.03" width="0.55" height="108.27"/><rect x="581.76" y="375.88" width="0.55" height="66.42"/><rect x="584.35" y="389.53" width="0.55" height="52.77"/><rect x="586.94" y="394.08" width="0.55" height="48.22"/><rect x="589.54" y="304.01" width="0.55" height="138.29"/><rect x="592.13" y="304.01" width="0.55" height="138.29"/><rect x="594.73" y="318.57" width="0.55" height="123.73"/><rect x="597.32" y="310.38" width="0.55" height="131.92"/><rect x="599.91" y="305.83" width="0.55" height="136.47"/><rect x="602.51" y="361.33" width="0.55" height="80.97"/><rect x="605.10" y="380.43" width="0.55" height="61.87"/><rect x="607.70" y="294.91" width="0.55" height="147.39"/><rect x="610.29" y="273.99" width="0.55" height="168.31"/><rect x="612.88" y="265.80" width="0.55" height="176.50"/><rect x="615.48" y="285.81" width="0.55" height="156.49"/><rect x="618.07" y="301.28" width="0.55" height="141.02"/><rect x="620.67" y="348.59" width="0.55" height="93.71"/><rect x="623.26" y="345.86" width="0.55" height="96.44"/><rect x="625.85" y="373.16" width="0.55" height="69.14"/><rect x="628.45" y="242.14" width="0.55" height="200.16"/><rect x="631.04" y="203.93" width="0.55" height="238.37"/><rect x="633.64" y="233.05" width="0.55" height="209.25"/><rect x="636.23" y="221.22" width="0.55" height="221.08"/><rect x="638.82" y="310.38" width="0.55" height="131.92"/><rect x="641.42" y="324.03" width="0.55" height="118.27"/><rect x="644.01" y="203.02" width="0.55" height="239.28"/><rect x="646.61" y="179.37" width="0.55" height="262.93"/><rect x="649.20" y="200.29" width="0.55" height="242.01"/><rect x="651.79" y="203.93" width="0.55" height="238.37"/><rect x="654.39" y="205.75" width="0.55" height="236.55"/><rect x="656.98" y="291.27" width="0.55" height="151.03"/><rect x="659.58" y="300.37" width="0.55" height="141.93"/><rect x="662.17" y="139.34" width="0.55" height="302.96"/><rect x="664.76" y="131.15" width="0.55" height="311.15"/><rect x="667.36" y="112.95" width="0.55" height="329.35"/><rect x="669.95" y="145.71" width="0.55" height="296.59"/><rect x="672.55" y="183.01" width="0.55" height="259.29"/><rect x="675.14" y="257.61" width="0.55" height="184.69"/><rect x="677.73" y="280.36" width="0.55" height="161.94"/><rect x="680.33" y="178.46" width="0.55" height="263.84"/><rect x="682.92" y="72.01" width="0.55" height="370.29"/><rect x="685.52" y="59.27" width="0.55" height="383.03"/></g>
<polyline points="54.5,305.3 57.3,309.3 61.4,312.6 63.8,301.3 66.2,302.8 69.5,295.5 72.7,287.5 75.9,285.0 79.2,274.9 81.6,274.2 84.0,279.4 87.3,293.1 89.7,309.3 94.6,310.9 97.8,319.0 100.6,325.6 102.7,325.0 105.1,319.0 108.4,319.8 113.2,323.1 118.1,326.3 121.3,317.4 126.2,302.0 129.5,300.4 134.3,296.4 136.8,288.7 139.2,288.7 144.0,292.3 147.3,290.4 150.0,290.4 154.0,289.5 157.3,293.1 160.5,298.7 162.6,300.7 165.4,293.1 167.8,297.2 170.3,299.6 172.4,304.5 175.1,295.5 177.2,296.4 180.0,291.5 183.2,301.3 185.7,300.4 188.6,303.6 190.5,302.0 193.8,309.3 198.6,313.1 201.9,306.1 206.8,298.0 210.8,302.0 213.2,302.4 216.8,308.6 219.7,308.6 222.6,317.4 224.6,321.8 227.0,319.8 229.5,319.5 234.3,315.8 238.4,316.7 240.8,310.1 244.0,309.3 247.3,305.6 249.7,307.6 253.0,305.6 257.8,308.0 261.0,304.5 263.5,304.0 268.4,300.4 271.5,302.2 274.7,301.0 281.2,304.3 284.5,302.2 287.7,301.6 290.1,296.7 292.6,297.7 295.8,302.9 299.9,306.2 303.9,303.7 308.8,301.0 313.0,299.5 317.3,298.3 321.0,303.1 325.0,309.5 328.9,316.8 336.2,329.0 341.9,323.4 348.4,320.9 354.0,317.7 359.7,326.8 364.6,334.7 369.5,339.2 372.7,337.1 375.1,339.9 379.2,334.9 384.0,323.4 388.9,315.3 393.8,304.0 398.6,295.8 401.5,289.5 405.5,287.8 409.6,278.1 414.5,275.8 419.3,277.3 425.0,281.3 429.9,279.7 435.5,284.0 440.4,286.2 445.3,278.1 450.9,273.1 455.0,276.7 458.2,262.7 463.9,259.4 468.8,266.7 473.6,257.8 477.7,264.3 483.4,271.6 488.2,261.2 493.9,260.3 500.4,249.4 502.8,223.9 505.5,204.8 508.8,185.4 511.2,174.8 513.6,167.5 515.3,166.6 517.4,168.8 519.3,180.5 520.9,193.5 522.6,206.7 525.0,213.8 526.6,206.7 528.2,201.6 530.7,196.7 533.1,192.7 535.5,182.1 538.0,173.2 541.2,169.2 543.2,158.6 546.1,160.3 548.5,162.6 550.9,169.2 553.4,178.9 556.6,182.5 559.0,187.8 561.5,196.7 563.9,207.3 566.8,218.0 571.6,214.4 574.9,225.1 577.3,224.3 579.7,234.9 581.3,250.3 584.6,258.5 588.6,266.4 593.3,278.5 596.8,288.8 599.9,282.2 603.4,280.0 609.0,284.0 613.5,279.9 618.0,285.4 622.4,284.9 626.5,290.5 629.7,280.8 632.2,270.3 638.6,270.3 645.1,266.2 648.4,279.2 651.6,284.9 658.1,289.7 663.0,285.8 667.8,280.0 674.3,278.5 680.8,277.6 683.2,267.8 686.0,264.0" fill="none" stroke="#74728A" stroke-width="0.95" stroke-linejoin="round"/>
<polyline points="55.5,425.9 58.0,426.2 60.6,426.6 63.2,425.8 65.8,425.0 68.4,423.5 71.0,421.6 73.6,421.0 76.2,420.5 78.8,419.0 81.4,419.3 84.0,419.8 86.6,421.1 89.2,422.8 91.8,421.5 94.4,421.0 97.0,421.0 99.5,420.6 102.1,420.3 104.7,417.9 107.3,417.5 109.9,417.0 112.5,416.3 115.1,416.6 117.7,416.8 120.3,415.1 122.9,413.8 125.5,410.6 128.1,410.1 130.7,409.3 133.3,408.2 135.9,405.1 138.5,403.0 141.1,402.5 143.6,402.0 146.2,400.8 148.8,400.6 151.4,400.4 154.0,399.4 156.6,400.4 159.2,401.9 161.8,401.7 164.4,398.9 167.0,399.5 169.6,399.3 172.2,399.8 174.8,395.6 177.4,393.4 180.0,391.5 182.6,394.5 185.1,393.0 187.7,394.0 190.3,393.2 192.9,394.7 195.5,395.9 198.1,395.6 200.7,392.3 203.3,390.7 205.9,389.3 208.5,388.0 211.1,388.0 213.7,386.3 216.3,386.5 218.9,384.3 221.5,385.4 224.1,385.9 226.7,383.2 229.2,381.3 231.8,377.6 234.4,374.8 237.0,372.8 239.6,370.2 242.2,368.7 244.8,366.7 247.4,362.9 250.0,364.8 252.6,362.8 255.2,362.6 257.8,359.0 260.4,356.1 263.0,355.3 265.6,350.8 268.2,345.9 270.8,343.8 273.3,341.7 275.9,340.5 278.5,339.6 281.1,337.8 283.7,334.6 286.3,335.1 288.9,328.3 291.5,324.5 294.1,323.5 296.7,324.0 299.3,320.0 301.9,315.7 304.5,305.3 307.1,301.7 309.7,297.4 312.3,293.7 314.8,287.8 317.4,283.5 320.0,284.6 322.6,284.0 325.2,287.8 327.8,287.4 330.4,292.8 333.0,295.6 335.6,299.6 338.2,291.0 340.8,283.2 343.4,275.9 346.0,272.7 348.6,267.2 351.2,263.3 353.8,259.6 356.4,263.2 358.9,267.4 361.5,272.0 364.1,276.1 366.7,278.5 369.3,279.1 371.9,274.8 374.5,282.3 377.1,280.0 379.7,274.5 382.3,269.2 384.9,262.9 387.5,259.8 390.1,262.2 392.7,248.4 395.3,245.5 397.9,238.9 400.5,236.6 403.0,238.0 405.6,244.6 408.2,240.7 410.8,242.3 413.4,244.0 416.0,247.2 418.6,252.3 421.2,257.6 423.8,259.3 426.4,259.4 429.0,258.1 431.6,261.9 434.2,273.3 436.8,284.3 439.4,289.8 442.0,290.5 444.5,290.5 447.1,294.5 449.7,296.3 452.3,299.7 454.9,309.5 457.5,302.8 460.1,303.1 462.7,307.0 465.3,308.9 467.9,317.9 470.5,326.1 473.1,321.6 475.7,324.7 478.3,325.3 480.9,327.7 483.5,332.3 486.1,329.5 488.6,318.7 491.2,311.5 493.8,309.5 496.4,309.6 499.0,310.5 501.6,307.9 504.2,297.5 506.8,298.3 509.4,300.9 512.0,304.9 514.6,305.3 517.2,311.2 519.8,319.9 522.4,332.1 525.0,336.2 527.6,332.0 530.2,332.6 532.7,333.0 535.3,330.0 537.9,327.4 540.5,328.6 543.1,324.8 545.7,328.1 548.3,327.8 550.9,329.6 553.5,333.3 556.1,333.5 558.7,335.5 561.3,340.8 563.9,342.5 566.5,347.2 569.1,345.2 571.7,342.2 574.2,344.3 576.8,339.2 579.4,338.8 582.0,343.7 584.6,342.0 587.2,343.1 589.8,342.9 592.4,342.2 595.0,345.7 597.6,342.4 600.2,332.3 602.8,328.3 605.4,326.4 608.0,325.1 610.6,320.8 613.2,313.2 615.8,309.7 618.3,309.1 620.9,307.3 623.5,302.3 626.1,313.5 628.7,308.9 631.3,300.1 633.9,292.6 636.5,281.1 639.1,275.7 641.7,272.6 644.3,248.3 646.9,239.3 649.5,238.8 652.1,234.6 654.7,232.4 657.3,229.7 659.9,226.3 662.4,217.2 665.0,210.3 667.6,197.8 670.2,189.5 672.8,186.3 675.4,181.4 678.0,178.6 680.6,184.2 683.2,175.7 685.8,168.1" fill="none" stroke="#C0504D" stroke-width="3.4" stroke-linejoin="round" stroke-linecap="butt"/>
<rect x="278.2" y="395.5" width="252.5" height="42" fill="#fff"/>
<rect x="283.8" y="399" width="22" height="6.2" fill="#C0504D"/>
<line x1="283.8" x2="305.8" y1="416.4" y2="416.4" stroke="#74728A" stroke-width="1"/>
<line x1="283.6" x2="306.8" y1="430.3" y2="430.3" stroke="#C0504D" stroke-width="3.2" stroke-linecap="round"/>
<text x="309.3" y="406.0" font-size="11.6" text-anchor="start" textLength="100.0" lengthAdjust="spacingAndGlyphs">Летальные случаи</text>
<text x="312.3" y="420.1" font-size="11.6" text-anchor="start" textLength="142.0" lengthAdjust="spacingAndGlyphs">летальность (сглаженная)</text>
<text x="309.5" y="434.1" font-size="11.6" text-anchor="start" textLength="219.4" lengthAdjust="spacingAndGlyphs">7 линейный фильтр (Летальные случаи)</text>
<text x="162.8" y="21.0" font-size="14" text-anchor="start" textLength="414.4" lengthAdjust="spacingAndGlyphs">Летальность от Ковида в Украине по дате публикации данных.</text>
<text x="43.2" y="446.4" font-size="11.6" text-anchor="end" textLength="6.7" lengthAdjust="spacingAndGlyphs">0</text>
<text x="43.2" y="428.2" font-size="11.6" text-anchor="end" textLength="13.3" lengthAdjust="spacingAndGlyphs">20</text>
<text x="43.2" y="410.0" font-size="11.6" text-anchor="end" textLength="13.3" lengthAdjust="spacingAndGlyphs">40</text>
<text x="43.2" y="391.8" font-size="11.6" text-anchor="end" textLength="13.3" lengthAdjust="spacingAndGlyphs">60</text>
<text x="43.2" y="373.6" font-size="11.6" text-anchor="end" textLength="13.3" lengthAdjust="spacingAndGlyphs">80</text>
<text x="43.2" y="355.4" font-size="11.6" text-anchor="end" textLength="20.0" lengthAdjust="spacingAndGlyphs">100</text>
<text x="43.2" y="337.2" font-size="11.6" text-anchor="end" textLength="20.0" lengthAdjust="spacingAndGlyphs">120</text>
<text x="43.2" y="319.0" font-size="11.6" text-anchor="end" textLength="20.0" lengthAdjust="spacingAndGlyphs">140</text>
<text x="43.2" y="300.8" font-size="11.6" text-anchor="end" textLength="20.0" lengthAdjust="spacingAndGlyphs">160</text>
<text x="43.2" y="282.6" font-size="11.6" text-anchor="end" textLength="20.0" lengthAdjust="spacingAndGlyphs">180</text>
<text x="43.2" y="264.4" font-size="11.6" text-anchor="end" textLength="20.0" lengthAdjust="spacingAndGlyphs">200</text>
<text x="43.2" y="246.2" font-size="11.6" text-anchor="end" textLength="20.0" lengthAdjust="spacingAndGlyphs">220</text>
<text x="43.2" y="228.0" font-size="11.6" text-anchor="end" textLength="20.0" lengthAdjust="spacingAndGlyphs">240</text>
<text x="43.2" y="209.9" font-size="11.6" text-anchor="end" textLength="20.0" lengthAdjust="spacingAndGlyphs">260</text>
<text x="43.2" y="191.7" font-size="11.6" text-anchor="end" textLength="20.0" lengthAdjust="spacingAndGlyphs">280</text>
<text x="43.2" y="173.5" font-size="11.6" text-anchor="end" textLength="20.0" lengthAdjust="spacingAndGlyphs">300</text>
<text x="43.2" y="155.3" font-size="11.6" text-anchor="end" textLength="20.0" lengthAdjust="spacingAndGlyphs">320</text>
<text x="43.2" y="137.1" font-size="11.6" text-anchor="end" textLength="20.0" lengthAdjust="spacingAndGlyphs">340</text>
<text x="43.2" y="118.9" font-size="11.6" text-anchor="end" textLength="20.0" lengthAdjust="spacingAndGlyphs">360</text>
<text x="43.2" y="100.7" font-size="11.6" text-anchor="end" textLength="20.0" lengthAdjust="spacingAndGlyphs">380</text>
<text x="43.2" y="82.5" font-size="11.6" text-anchor="end" textLength="20.0" lengthAdjust="spacingAndGlyphs">400</text>
<text x="43.2" y="64.3" font-size="11.6" text-anchor="end" textLength="20.0" lengthAdjust="spacingAndGlyphs">420</text>
<text x="43.2" y="46.1" font-size="11.6" text-anchor="end" textLength="20.0" lengthAdjust="spacingAndGlyphs">440</text>
<text x="699.5" y="446.4" font-size="11.6" text-anchor="start" textLength="25.5" lengthAdjust="spacingAndGlyphs">0,0%</text>
<text x="699.5" y="366.3" font-size="11.6" text-anchor="start" textLength="25.5" lengthAdjust="spacingAndGlyphs">1,0%</text>
<text x="699.5" y="286.3" font-size="11.6" text-anchor="start" textLength="25.5" lengthAdjust="spacingAndGlyphs">2,0%</text>
<text x="699.5" y="206.2" font-size="11.6" text-anchor="start" textLength="25.5" lengthAdjust="spacingAndGlyphs">3,0%</text>
<text x="699.5" y="126.2" font-size="11.6" text-anchor="start" textLength="25.5" lengthAdjust="spacingAndGlyphs">4,0%</text>
<text x="699.5" y="46.1" font-size="11.6" text-anchor="start" textLength="25.5" lengthAdjust="spacingAndGlyphs">5,0%</text>
<text x="55.8" y="462.7" font-size="11.6" text-anchor="middle" textLength="25.2" lengthAdjust="spacingAndGlyphs">1 авг</text>
<text x="136.2" y="462.7" font-size="11.6" text-anchor="middle" textLength="27.0" lengthAdjust="spacingAndGlyphs">1 сен</text>
<text x="214.0" y="462.7" font-size="11.6" text-anchor="middle" textLength="27.0" lengthAdjust="spacingAndGlyphs">1 окт</text>
<text x="294.4" y="462.7" font-size="11.6" text-anchor="middle" textLength="28.5" lengthAdjust="spacingAndGlyphs">1 ноя</text>
<text x="372.3" y="462.7" font-size="11.6" text-anchor="middle" textLength="27.5" lengthAdjust="spacingAndGlyphs">1 дек</text>
<text x="452.7" y="462.7" font-size="11.6" text-anchor="middle" textLength="28.0" lengthAdjust="spacingAndGlyphs">1 янв</text>
<text x="533.1" y="462.7" font-size="11.6" text-anchor="middle" textLength="29.0" lengthAdjust="spacingAndGlyphs">1 фев</text>
<text x="605.7" y="462.7" font-size="11.6" text-anchor="middle" textLength="30.0" lengthAdjust="spacingAndGlyphs">1 мар</text>
<text x="686.1" y="462.7" font-size="11.6" text-anchor="middle" textLength="28.5" lengthAdjust="spacingAndGlyphs">1 апр</text>
</svg></body></html>
